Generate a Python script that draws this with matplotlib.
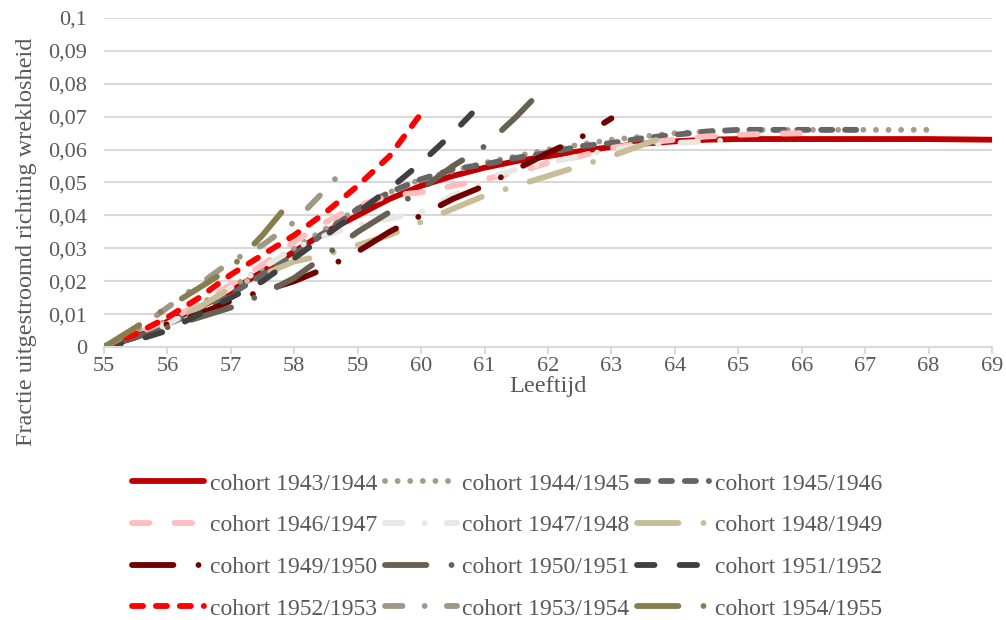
import numpy as np
import matplotlib
matplotlib.use("Agg")
import matplotlib.pyplot as plt
from matplotlib.ticker import FuncFormatter, MultipleLocator

# ---------------- data: cumulatieve uitstroom per cohort ----------------
ages = [55.0, 55.5, 56.0, 56.5, 57.0, 57.5, 58.0, 58.5, 59.0, 59.5,
        60.0, 60.5, 61.0, 61.5, 62.0, 62.5, 63.0, 63.5, 64.0, 64.5,
        65.0, 65.5, 66.0, 66.5, 67.0, 67.5, 68.0, 68.5, 69.0]

labels = ["cohort 1943/1944", "cohort 1944/1945", "cohort 1945/1946",
          "cohort 1946/1947", "cohort 1947/1948", "cohort 1948/1949",
          "cohort 1949/1950", "cohort 1950/1951", "cohort 1951/1952",
          "cohort 1952/1953", "cohort 1953/1954", "cohort 1954/1955"]

c4344 = [0, 0.0035, 0.0077, 0.012, 0.017, 0.023, 0.029, 0.035, 0.040, 0.045,
         0.049, 0.052, 0.0545, 0.0565, 0.058, 0.0595, 0.0608, 0.0618, 0.0625,
         0.063, 0.0632, 0.0632, 0.0632, 0.0632, 0.0632, 0.0632, 0.0632, 0.0631, 0.063]
c4445 = [0, 0.004, 0.008, 0.013, 0.018, 0.024, 0.030, 0.036, 0.042, 0.047,
         0.051, 0.0535, 0.056, 0.058, 0.060, 0.0615, 0.063, 0.064, 0.065,
         0.0655, 0.066, 0.066, 0.066, 0.066, 0.066, 0.066, 0.066]
c4546 = [0, 0.003, 0.007, 0.011, 0.016, 0.022, 0.028, 0.035, 0.042, 0.047,
         0.051, 0.054, 0.0555, 0.0575, 0.059, 0.061, 0.062, 0.0635, 0.0645,
         0.0655, 0.066, 0.066, 0.066, 0.066, 0.066]
c4647 = [0, 0.004, 0.008, 0.013, 0.019, 0.025, 0.032, 0.038, 0.043, 0.046,
         0.047, 0.049, 0.051, 0.053, 0.056, 0.058, 0.0605, 0.062, 0.063,
         0.064, 0.0645, 0.0648, 0.065]
c4748 = [0, 0.003, 0.007, 0.012, 0.018, 0.024, 0.030, 0.034, 0.037, 0.039,
         0.041, 0.046, 0.051, 0.054, 0.056, 0.058, 0.060, 0.0612, 0.062,
         0.0625, 0.063]
c4849 = [0, 0.003, 0.007, 0.012, 0.018, 0.022, 0.026, 0.028, 0.031, 0.034,
         0.038, 0.042, 0.046, 0.049, 0.052, 0.055, 0.058, 0.0615, 0.065]
c4950 = [0, 0.003, 0.007, 0.010, 0.014, 0.017, 0.020, 0.024, 0.029, 0.035,
         0.040, 0.045, 0.049, 0.054, 0.059, 0.0635, 0.0695]
c5051 = [0, 0.003, 0.006, 0.009, 0.012, 0.016, 0.021, 0.028, 0.035, 0.041,
         0.048, 0.055, 0.061, 0.070, 0.075]
c5152 = [0, 0.002, 0.005, 0.010, 0.015, 0.020, 0.027, 0.034, 0.041, 0.048,
         0.056, 0.065, 0.071]
c5253 = [0, 0.004, 0.009, 0.015, 0.022, 0.028, 0.034, 0.041, 0.049, 0.058, 0.071]
c5354 = [0, 0.005, 0.012, 0.019, 0.026, 0.031, 0.038, 0.048, 0.0555]
c5455 = [0, 0.006, 0.012, 0.018, 0.024, 0.034, 0.041]

# last observed age for cohorts that stop between half years
x5051 = ages[:14] + [61.75]
x5152 = ages[:12] + [60.8]
x5354 = ages[:8] + [58.85]
x5455 = ages[:6] + [57.8]

xs = [ages, ages, ages, ages, ages, ages, ages, x5051, x5152, ages, x5354, x5455]
ys = [c4344, c4445, c4546, c4647, c4748, c4849, c4950, c5051, c5152, c5253, c5354, c5455]

colors = ["#C00000", "#A69B87", "#666666", "#FFBDBD", "#E8E7E2", "#C8BD97",
          "#700000", "#686050", "#404040", "#FF0000", "#A09886", "#877E4E"]

# dash patterns in units of the line width
dot = (0, (0.01, 2.15))
dash = (0, (1.9, 2.2))
lgdash = (0, (3.0, 4.3))
lgdashdot = (0, (7.1, 4.3, 0.01, 4.3))
dashdot = (0, (3.0, 3.8, 0.01, 3.8))
styles = ["-", dot, dash, lgdash, dashdot, lgdashdot,
          lgdashdot, lgdashdot, lgdash, dash, dashdot, lgdashdot]

# ---------------- figure ----------------
plt.rcParams["font.family"] = ["Liberation Serif", "DejaVu Serif"]
txt = "#595959"
grid = "#D9D9D9"

fig = plt.figure(figsize=(10.06, 6.2), dpi=100)
ax = fig.add_axes([0.1034, 0.4403, 0.8827, 0.5307])

handles = []
for x, y, c, ls, lab in zip(xs, ys, colors, styles, labels):
    n = len(y)
    h, = ax.plot(x[:n], y, color=c, linestyle=ls, linewidth=4.2,
                 solid_capstyle="round", dash_capstyle="round", label=lab)
    handles.append(h)

ax.set_xlim(55, 69)
ax.set_ylim(0, 0.1)
ax.xaxis.set_major_locator(MultipleLocator(1))
ax.yaxis.set_major_locator(MultipleLocator(0.01))


def komma(v, pos):
    if abs(v) < 1e-9:
        return "0"
    return ("%.2f" % v).rstrip("0").replace(".", ",")


ax.yaxis.set_major_formatter(FuncFormatter(komma))
ax.grid(axis="y", color=grid, linewidth=1.5)
ax.set_axisbelow(True)
for s in ["top", "right", "left"]:
    ax.spines[s].set_visible(False)
ax.spines["bottom"].set_color(grid)
ax.spines["bottom"].set_linewidth(1.5)
ax.tick_params(axis="x", colors=txt, labelsize=16, length=5, width=1.5,
               color=grid, direction="out", pad=2)
ax.tick_params(axis="y", colors=txt, labelsize=16, length=0, pad=12)

ax.set_xlabel("Leeftijd", fontsize=17.5, color=txt, labelpad=0)
ax.set_ylabel("Fractie uitgestroomd richting wreklosheid", fontsize=17.5,
              color=txt)
ax.yaxis.set_label_coords(-0.076, 0.319)

# legend filled row by row: 3 columns
order = [0, 3, 6, 9, 1, 4, 7, 10, 2, 5, 8, 11]
leg = fig.legend([handles[i] for i in order], [labels[i] for i in order],
                 ncol=3, loc="upper left", bbox_to_anchor=(0.122, 0.252),
                 frameon=False, fontsize=17, handlelength=3.05,
                 handletextpad=0.25, columnspacing=0.3, labelspacing=0.85,
                 borderaxespad=0)
for t in leg.get_texts():
    t.set_color(txt)

fig.savefig("out.png", dpi=100)
